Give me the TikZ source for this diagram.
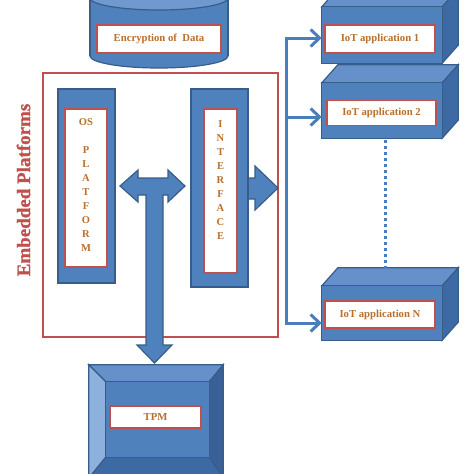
\documentclass[tikz,border=0pt]{standalone}
\usepackage{fontspec}
\setmainfont{Liberation Serif}
\newfontfamily\embfont[FakeBold=1.2]{Liberation Serif Bold}
\usetikzlibrary{arrows.meta,calc}
\definecolor{blueF}{HTML}{4F81BD}
\definecolor{blueD}{HTML}{385D8A}
\definecolor{blueL}{HTML}{7099CF}
\definecolor{blueT}{HTML}{6690C9}
\definecolor{blueS}{HTML}{3D6AA5}
\definecolor{blueLL}{HTML}{8DB0DD}
\definecolor{blueR}{HTML}{3A6197}
\definecolor{redB}{HTML}{C0504D}
\definecolor{txtO}{HTML}{B8702E}
\definecolor{lineB}{HTML}{4A7EBB}
\tikzset{
  blk/.style={draw=blueD, fill=blueF, line width=1.2pt, rectangle, inner sep=0pt},
  lbl/.style={draw=redB, fill=white, line width=1.6pt, rectangle, inner sep=0pt,
    text=txtO, font=\fontsize{10.7}{13}\selectfont\bfseries},
  stack/.style={inner sep=0pt, text=txtO, align=center,
    font=\fontsize{10.5}{14}\selectfont\bfseries},
  conn/.style={draw=lineB, line width=3pt, line join=miter},
  barb/.tip={Straight Barb[length=9pt,width=17pt]},
  dotline/.style={draw=lineB, line width=3pt, dash pattern=on 3pt off 3pt},
  bigarrow/.style={draw=blueD, fill=blueF, line width=1.2pt, line join=miter},
  face/.style={draw=blueD, line width=1.2pt, line join=miter}
}
\begin{document}
\begin{tikzpicture}[x=1pt,y=-1pt]
\useasboundingbox (0,0) rectangle (474,474);

% cylinder
\filldraw[face, fill=blueF] (159,56) ellipse [x radius=69, y radius=12];
\fill[blueF] (90,-2) rectangle (228,56);
\draw[face] (90,-2) -- (90,56) (228,-2) -- (228,56);
\filldraw[face, fill=blueL] (159,-2) ellipse [x radius=69, y radius=12];
\node[lbl, minimum width=124pt, minimum height=28pt] (enc) at (159,39) {Encryption of \ Data};

% embedded platform frame
\node[draw=redB, line width=1.6pt, fill=white, minimum width=235pt, minimum height=264pt, inner sep=0pt] (frame) at (160.5,205) {};
\node[rotate=90, text=redB, font=\fontsize{19}{22}\selectfont\embfont] (emb) at (23.5,190) {Embedded Platforms};

% interface arrow (to the right)
\draw[bigarrow] (240,178) -- (255,178) -- (255,166) -- (278,188) -- (255,210) -- (255,199) -- (240,199);

% OS platform
\node[blk, minimum width=57pt, minimum height=194pt] (osbox) at (86.5,186) {};
\node[lbl, minimum width=42pt, minimum height=158pt] (osin) at (86,188) {};
\node[stack] (ostxt) at (86,185) {OS\\[14pt]P\\L\\A\\T\\F\\O\\R\\M};

% interface
\node[blk, minimum width=57pt, minimum height=198pt] (ifbox) at (219.5,188) {};
\node[lbl, minimum width=33pt, minimum height=164pt] (ifin) at (220.5,191) {};
\node[stack] (iftxt) at (220.5,180) {I\\N\\T\\E\\R\\F\\A\\C\\E};

% T-shaped double arrow
\draw[bigarrow] (120,186) -- (138,170) -- (138,178) -- (168,178) -- (168,170) -- (185,186)
  -- (168,202) -- (168,195) -- (163,195) -- (163,345) -- (172,345) -- (154.5,363)
  -- (137,345) -- (146,345) -- (146,195) -- (138,195) -- (138,202) -- cycle;

% TPM bevelled box
\node[minimum width=134pt, minimum height=113pt, inner sep=0pt] (tpmo) at (156,421.5) {};
\node[minimum width=103pt, minimum height=75pt, inner sep=0pt] (tpmi) at (157.5,419.5) {};
\filldraw[face, fill=blueT] (tpmo.north west) -- (tpmo.north east) -- (tpmi.north east) -- (tpmi.north west) -- cycle;
\filldraw[face, fill=blueLL] (tpmo.north west) -- (tpmi.north west) -- (tpmi.south west) -- (tpmo.south west) -- cycle;
\filldraw[face, fill=blueR] (tpmo.north east) -- (tpmo.south east) -- (tpmi.south east) -- (tpmi.north east) -- cycle;
\filldraw[face, fill=blueS] (tpmo.south west) -- (tpmo.south east) -- (tpmi.south east) -- (tpmi.south west) -- cycle;
\filldraw[face, fill=blueF] (tpmi.north west) rectangle (tpmi.south east);
\node[lbl, minimum width=91pt, minimum height=22pt] (tpm) at (155.5,417) {TPM};

% IoT application boxes
\foreach \f/\cy/\h in {app1f/35/56, app2f/110.5/55, appNf/313/54}{
  \node[minimum width=120pt, minimum height=\h pt, inner sep=0pt] (\f) at (382,\cy) {};
  \filldraw[face, fill=blueT] (\f.north west) -- ++(16,-18) -- ($(\f.north east)+(16,-18)$) -- (\f.north east) -- cycle;
  \filldraw[face, fill=blueS] (\f.north east) -- ($(\f.north east)+(16,-18)$) -- ($(\f.south east)+(16,-18)$) -- (\f.south east) -- cycle;
  \filldraw[face, fill=blueF] (\f.north west) rectangle (\f.south east);
}
\node[lbl, minimum width=110pt, minimum height=28pt] (app1) at (380,39) {IoT application 1};
\node[lbl, minimum width=109pt, minimum height=25pt] (app2) at (381.5,113) {IoT application 2};
\node[lbl, minimum width=110pt, minimum height=27pt] (appN) at (380,314.5) {IoT application N};

% dotted link
\coordinate (d1) at (385,140);
\coordinate (d2) at (385,268);
\draw[dotline] (d1) -- (d2);

% connectors
\coordinate (bt) at (286,38);
\coordinate (b2) at (286,117);
\coordinate (bb) at (286,323);
\draw[conn, {barb}-{barb}] (bt -| app1f.west) -- (bt) -- (bb) -- (bb -| appNf.west);
\draw[conn, -{barb}] (b2) -- (b2 -| app2f.west);
\end{tikzpicture}
\end{document}
